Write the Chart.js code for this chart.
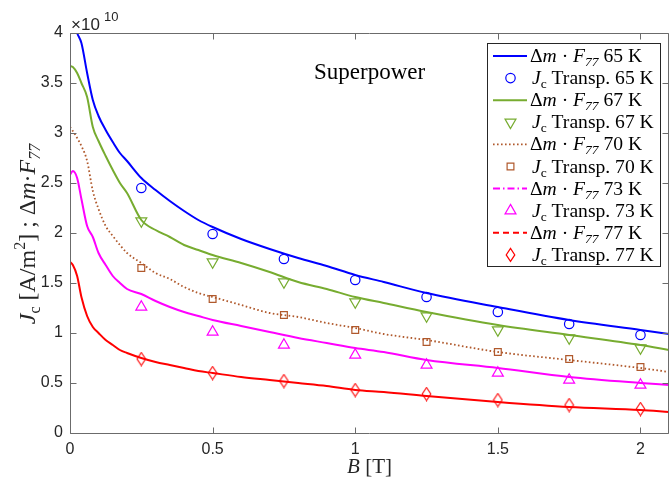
<!DOCTYPE html>
<html><head><meta charset="utf-8">
<script src="https://cdn.jsdelivr.net/npm/chart.js@4.4.1/dist/chart.umd.min.js"></script>
<style>html,body{margin:0;padding:0;background:#fff}#wrap{width:670px;height:479px;position:relative}</style>
</head><body><div id="wrap"><canvas id="c" width="670" height="479"></canvas></div>
<script>
// Magnetic field B [T] for the Δm·F77 curves
const B_line = [0, 0.01, 0.025, 0.04, 0.06, 0.08, 0.1, 0.125, 0.15, 0.175, 0.2, 0.25, 0.3, 0.35, 0.4, 0.45, 0.5, 0.6, 0.7, 0.8, 0.9, 1.0, 1.1, 1.25, 1.5, 1.75, 2.0, 2.1];
// Δm·F77 values in units of 1e10 A/m²
const line65 = [4.25, 4.15, 4.0, 3.9, 3.6, 3.33, 3.17, 3.03, 2.91, 2.8, 2.72, 2.55, 2.43, 2.32, 2.22, 2.13, 2.06, 1.94, 1.84, 1.75, 1.67, 1.58, 1.51, 1.40, 1.26, 1.13, 1.03, 0.99];
const line67 = [3.67, 3.66, 3.6, 3.5, 3.36, 3.06, 2.92, 2.77, 2.63, 2.5, 2.4, 2.13, 2.03, 1.96, 1.88, 1.83, 1.78, 1.70, 1.61, 1.51, 1.44, 1.36, 1.30, 1.21, 1.08, 0.98, 0.88, 0.83];
const line70 = [3.06, 3.02, 2.95, 2.87, 2.72, 2.42, 2.24, 2.07, 1.97, 1.88, 1.80, 1.70, 1.60, 1.54, 1.46, 1.40, 1.36, 1.28, 1.20, 1.16, 1.10, 1.05, 0.99, 0.93, 0.81, 0.73, 0.65, 0.61];
const line73 = [2.58, 2.62, 2.55, 2.34, 2.07, 1.96, 1.80, 1.68, 1.57, 1.50, 1.44, 1.39, 1.32, 1.26, 1.21, 1.17, 1.13, 1.07, 1.01, 0.95, 0.90, 0.85, 0.81, 0.73, 0.65, 0.56, 0.50, 0.48];
const line77 = [1.71, 1.68, 1.57, 1.36, 1.17, 1.06, 1.00, 0.93, 0.88, 0.83, 0.80, 0.75, 0.71, 0.68, 0.65, 0.62, 0.60, 0.56, 0.53, 0.50, 0.47, 0.43, 0.41, 0.37, 0.31, 0.26, 0.23, 0.21];
// Transport Jc measurements (1e10 A/m²)
const B_meas = [0.25, 0.5, 0.75, 1.0, 1.25, 1.5, 1.75, 2.0];
const meas65 = [2.45, 1.99, 1.74, 1.53, 1.36, 1.21, 1.09, 0.98];
const meas67 = [2.12, 1.71, 1.51, 1.31, 1.17, 1.03, 0.95, 0.85];
const meas70 = [1.65, 1.34, 1.18, 1.03, 0.91, 0.81, 0.74, 0.66];
const meas73 = [1.26, 1.01, 0.88, 0.78, 0.68, 0.60, 0.53, 0.48];
const meas77 = [0.74, 0.60, 0.52, 0.43, 0.39, 0.33, 0.28, 0.24];
const temps = ['65', '67', '70', '73', '77'];
const xTicks = [0, 0.5, 1, 1.5, 2];
const yTicks = [0, 0.5, 1, 1.5, 2, 2.5, 3, 3.5, 4];
const titleText = 'Superpower';

const colors = ['#0000ff', '#77ac30', '#b0592c', '#ff00ff', '#ff0000'];
const lines = [line65, line67, line70, line73, line77];
const meas = [meas65, meas67, meas70, meas73, meas77];

function diamondCanvas(color) {
  const c = document.createElement('canvas'); c.width = 11; c.height = 15;
  const g = c.getContext('2d'); g.strokeStyle = color; g.lineWidth = 1.1;
  g.beginPath(); g.moveTo(5.5, 1); g.lineTo(9.8, 7.5); g.lineTo(5.5, 14); g.lineTo(1.2, 7.5); g.closePath(); g.stroke();
  return c;
}
const markerDefs = [
  {style: 'circle', r: 4.7, rot: 0},
  {style: 'triangle', r: 6.3, rot: 180},
  {style: 'rect', r: 4.8, rot: 0},
  {style: 'triangle', r: 6.3, rot: 0},
  {style: diamondCanvas(colors[4]), r: 6, rot: 0}
];
const lineDash = [[], [], [1.6, 2.4], [], []];
const legendDash = [[], [], [1.6, 2.4], [7, 3, 1.5, 3], [6, 4]];
const lineW = [2, 2, 1.8, 2, 2];

const datasets = [];
temps.forEach((t, k) => {
  datasets.push({
    label: 'Δm·F77 ' + t + ' K', kind: 'line', idx: k,
    data: B_line.map((b, i) => ({x: b, y: lines[k][i]})),
    borderColor: colors[k], borderWidth: lineW[k], borderDash: lineDash[k],
    pointRadius: 0, fill: false, cubicInterpolationMode: 'monotone'
  });
  datasets.push({
    label: 'Jc Transp. ' + t + ' K', kind: 'marker', idx: k,
    data: B_meas.map((b, i) => ({x: b, y: meas[k][i]})),
    showLine: false, borderColor: colors[k], backgroundColor: 'rgba(0,0,0,0)',
    pointStyle: markerDefs[k].style, pointRadius: markerDefs[k].r, pointRotation: markerDefs[k].rot,
    pointBorderColor: colors[k], pointBackgroundColor: 'rgba(0,0,0,0)', pointBorderWidth: 1.2
  });
});

const SERIF = '"Liberation Serif", "DejaVu Serif", serif';
const SANS = '"Liberation Sans", Arial, sans-serif';
const AXC = '#262626';

function drawRich(ctx, parts, x, y) {
  let cx = x;
  for (const p of parts) {
    ctx.font = p[1];
    ctx.fillText(p[0], cx, y + (p[2] || 0));
    cx += ctx.measureText(p[0]).width;
  }
  return cx - x;
}
function richWidth(ctx, parts) {
  let w = 0;
  for (const p of parts) { ctx.font = p[1]; w += ctx.measureText(p[0]).width; }
  return w;
}
function drawMarker(ctx, k, x, y) {
  const c = colors[k];
  ctx.save(); ctx.strokeStyle = c; ctx.lineWidth = 1.2; ctx.setLineDash([]);
  ctx.beginPath();
  if (k === 0) { ctx.arc(x, y, 4.7, 0, Math.PI * 2); }
  else if (k === 1 || k === 3) {
    const r = 6.3; let a = k === 1 ? Math.PI : 0;
    for (let i = 0; i < 3; i++) { const px = x + Math.sin(a) * r, py = y - Math.cos(a) * r; if (i === 0) ctx.moveTo(px, py); else ctx.lineTo(px, py); a += 2 * Math.PI / 3; }
    ctx.closePath();
  } else if (k === 2) { const s = 4.8 * Math.SQRT1_2; ctx.rect(x - s, y - s, 2 * s, 2 * s); }
  else { ctx.moveTo(x, y - 6.5); ctx.lineTo(x + 4.3, y); ctx.lineTo(x, y + 6.5); ctx.lineTo(x - 4.3, y); ctx.closePath(); }
  ctx.stroke(); ctx.restore();
}

const decor = {
  id: 'decor',
  afterDatasetsDraw(chart) {
    const ctx = chart.ctx, a = chart.chartArea;
    const xs = chart.scales.x, ys = chart.scales.y;
    ctx.save();
    // box and inward ticks
    ctx.strokeStyle = '#6b6b6b'; ctx.lineWidth = 1; ctx.setLineDash([]);
    const L0 = Math.round(a.left) + 0.5, R0 = Math.round(a.right) - 0.5, T0 = Math.round(a.top) + 0.5, B0 = Math.round(a.bottom) + 0.5;
    ctx.beginPath();
    ctx.rect(L0, T0, R0 - L0, B0 - T0);
    xTicks.forEach(v => {
      const px = Math.round(xs.getPixelForValue(v)) + 0.5;
      ctx.moveTo(px, B0); ctx.lineTo(px, B0 - 6);
      ctx.moveTo(px, T0); ctx.lineTo(px, T0 + 6);
    });
    yTicks.forEach(v => {
      const py = Math.round(ys.getPixelForValue(v)) + 0.5;
      ctx.moveTo(L0, py); ctx.lineTo(L0 + 6, py);
      ctx.moveTo(R0, py); ctx.lineTo(R0 - 6, py);
    });
    ctx.stroke();

    ctx.fillStyle = AXC; ctx.textBaseline = 'alphabetic'; ctx.textAlign = 'left';
    // exponent label
    ctx.font = '17px ' + SANS; ctx.fillText('×10', 71, 30);
    ctx.font = '13px ' + SANS; ctx.fillText('10', 104, 21);
    // title
    ctx.fillStyle = '#000';
    ctx.font = '23px ' + SERIF; ctx.fillText(titleText, 314, 79);

    // x title
    const up21 = '21px ' + SERIF, it21 = 'italic 21px ' + SERIF;
    const xt = [['B', it21], [' [T]', up21]];
    const xw = richWidth(ctx, xt);
    ctx.fillStyle = AXC;
    drawRich(ctx, xt, (a.left + a.right) / 2 - xw / 2, 473);

    // y title
    const up24 = '24px ' + SERIF, it24 = 'italic 24px ' + SERIF, sm = '16px ' + SERIF, smi = 'italic 16px ' + SERIF;
    const yt = [['J', it24], ['c', sm, 5], [' [A/m', up24], ['2', sm, -10], ['] ; Δ', up24], ['m', it24], ['·', up24], ['F', it24], ['77', smi, 5]];
    const yw = richWidth(ctx, yt);
    ctx.save();
    ctx.translate(35, 234);
    ctx.rotate(-Math.PI / 2);
    drawRich(ctx, yt, -yw / 2, 0);
    ctx.restore();

    // legend
    const L = 487, T = 43, R = 661, Bt = 267;
    ctx.fillStyle = '#fff'; ctx.fillRect(L, T, R - L, Bt - T);
    ctx.strokeStyle = '#262626'; ctx.lineWidth = 1; ctx.strokeRect(L + 0.5, T + 0.5, R - L - 1, Bt - T - 1);
    const up = '19.6px ' + SERIF, it = 'italic 19.6px ' + SERIF, s1 = '13.5px ' + SERIF, si1 = 'italic 13.5px ' + SERIF;
    chart.data.datasets.forEach((ds, i) => {
      const cy = T + 13 + i * 22.1;
      const k = ds.idx;
      if (ds.kind === 'line') {
        ctx.save(); ctx.strokeStyle = colors[k]; ctx.lineWidth = lineW[k]; ctx.setLineDash(legendDash[k]);
        ctx.beginPath(); ctx.moveTo(493, cy); ctx.lineTo(527, cy); ctx.stroke(); ctx.restore();
        ctx.fillStyle = '#000';
        drawRich(ctx, [['Δ', up], ['m', it], [' · ', up], ['F', it], ['77', si1, 4], [' ' + temps[k] + ' K', up]], 530, cy + 6);
      } else {
        drawMarker(ctx, k, 510.5, cy);
        ctx.fillStyle = '#000';
        drawRich(ctx, [['J', it], ['c', s1, 4], [' Transp. ' + temps[k] + ' K', up]], 532, cy + 6);
      }
    });
    ctx.restore();
  }
};

new Chart(document.getElementById('c'), {
  type: 'line',
  data: {datasets},
  options: {
    responsive: false, animation: false, devicePixelRatio: 1,
    layout: {autoPadding: false, padding: {top: 33, right: 1, left: 0, bottom: 0}},
    plugins: {legend: {display: false}, tooltip: {enabled: false}, title: {display: false}},
    scales: {
      x: {
        type: 'linear', min: 0, max: 2.1,
        grid: {display: false, drawTicks: false}, border: {display: false},
        ticks: {color: AXC, font: {family: SANS, size: 16}, padding: 7, maxRotation: 0,
          callback: v => String(v)},
        afterBuildTicks: s => { s.ticks = xTicks.map(v => ({value: v})); },
        afterFit: s => { s.height = 46; s.paddingLeft = 0; s.paddingRight = 0; }
      },
      y: {
        type: 'linear', min: 0, max: 4,
        grid: {display: false, drawTicks: false}, border: {display: false},
        ticks: {color: AXC, font: {family: SANS, size: 16}, padding: 7,
          callback: v => String(v)},
        afterBuildTicks: s => { s.ticks = yTicks.map(v => ({value: v})); },
        afterFit: s => { s.width = 70; s.paddingTop = 0; s.paddingBottom = 0; }
      }
    }
  },
  plugins: [decor]
});
</script>
</body></html>
